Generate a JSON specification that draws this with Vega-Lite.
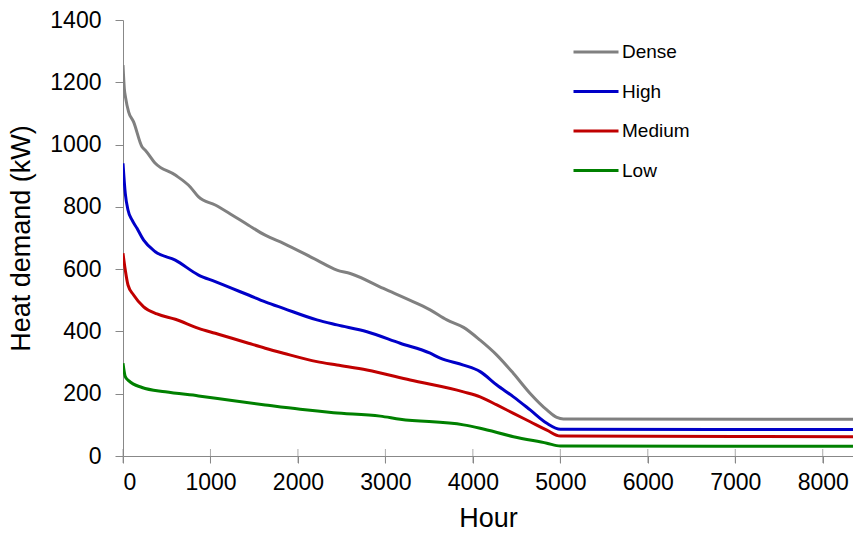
{
  "$schema": "https://vega.github.io/schema/vega-lite/v6.json",
  "autosize": "none",
  "width": 730,
  "height": 436,
  "padding": {"left": 123, "top": 20, "right": 0, "bottom": 78},
  "background": "white",
  "config": {
    "view": {"stroke": null},
    "font": "Liberation Sans",
    "axis": {
      "grid": false,
      "domainColor": "#888888",
      "tickColor": "#888888",
      "labelColor": "#000000",
      "titleColor": "#000000",
      "labelFont": "Liberation Sans",
      "titleFont": "Liberation Sans",
      "labelFontSize": 23,
      "titleFontSize": 27,
      "titleFontWeight": "normal"
    }
  },
  "datasets": {
    "curves": [
      {"hour": 0, "demand": 1255, "series": "Dense"},
      {"hour": 15, "demand": 1180, "series": "Dense"},
      {"hour": 30, "demand": 1150, "series": "Dense"},
      {"hour": 64, "demand": 1105, "series": "Dense"},
      {"hour": 121, "demand": 1073, "series": "Dense"},
      {"hour": 217, "demand": 993, "series": "Dense"},
      {"hour": 255, "demand": 982, "series": "Dense"},
      {"hour": 369, "demand": 940, "series": "Dense"},
      {"hour": 598, "demand": 902, "series": "Dense"},
      {"hour": 769, "demand": 864, "series": "Dense"},
      {"hour": 864, "demand": 832, "series": "Dense"},
      {"hour": 1055, "demand": 806, "series": "Dense"},
      {"hour": 1246, "demand": 774, "series": "Dense"},
      {"hour": 1435, "demand": 741, "series": "Dense"},
      {"hour": 1626, "demand": 709, "series": "Dense"},
      {"hour": 1835, "demand": 683, "series": "Dense"},
      {"hour": 2217, "demand": 629, "series": "Dense"},
      {"hour": 2446, "demand": 597, "series": "Dense"},
      {"hour": 2598, "demand": 586, "series": "Dense"},
      {"hour": 2978, "demand": 538, "series": "Dense"},
      {"hour": 3360, "demand": 490, "series": "Dense"},
      {"hour": 3512, "demand": 469, "series": "Dense"},
      {"hour": 3703, "demand": 437, "series": "Dense"},
      {"hour": 3893, "demand": 413, "series": "Dense"},
      {"hour": 4083, "demand": 372, "series": "Dense"},
      {"hour": 4274, "demand": 324, "series": "Dense"},
      {"hour": 4464, "demand": 265, "series": "Dense"},
      {"hour": 4655, "demand": 201, "series": "Dense"},
      {"hour": 4846, "demand": 148, "series": "Dense"},
      {"hour": 4960, "demand": 124, "series": "Dense"},
      {"hour": 5035, "demand": 119, "series": "Dense"},
      {"hour": 8350, "demand": 118, "series": "Dense"},

      {"hour": 0, "demand": 940, "series": "High"},
      {"hour": 26, "demand": 843, "series": "High"},
      {"hour": 57, "demand": 790, "series": "High"},
      {"hour": 103, "demand": 758, "series": "High"},
      {"hour": 160, "demand": 731, "series": "High"},
      {"hour": 236, "demand": 693, "series": "High"},
      {"hour": 369, "demand": 656, "series": "High"},
      {"hour": 598, "demand": 629, "series": "High"},
      {"hour": 864, "demand": 581, "series": "High"},
      {"hour": 1055, "demand": 560, "series": "High"},
      {"hour": 1246, "demand": 538, "series": "High"},
      {"hour": 1435, "demand": 517, "series": "High"},
      {"hour": 1626, "demand": 495, "series": "High"},
      {"hour": 1835, "demand": 474, "series": "High"},
      {"hour": 2217, "demand": 437, "series": "High"},
      {"hour": 2446, "demand": 421, "series": "High"},
      {"hour": 2789, "demand": 399, "series": "High"},
      {"hour": 3169, "demand": 362, "series": "High"},
      {"hour": 3512, "demand": 330, "series": "High"},
      {"hour": 3627, "demand": 314, "series": "High"},
      {"hour": 3893, "demand": 292, "series": "High"},
      {"hour": 4083, "demand": 271, "series": "High"},
      {"hour": 4274, "demand": 228, "series": "High"},
      {"hour": 4464, "demand": 190, "series": "High"},
      {"hour": 4655, "demand": 148, "series": "High"},
      {"hour": 4846, "demand": 105, "series": "High"},
      {"hour": 5000, "demand": 86, "series": "High"},
      {"hour": 8350, "demand": 85, "series": "High"},

      {"hour": 0, "demand": 651, "series": "Medium"},
      {"hour": 26, "demand": 597, "series": "Medium"},
      {"hour": 57, "demand": 549, "series": "Medium"},
      {"hour": 121, "demand": 517, "series": "Medium"},
      {"hour": 236, "demand": 479, "series": "Medium"},
      {"hour": 389, "demand": 456, "series": "Medium"},
      {"hour": 598, "demand": 439, "series": "Medium"},
      {"hour": 864, "demand": 410, "series": "Medium"},
      {"hour": 1055, "demand": 394, "series": "Medium"},
      {"hour": 1246, "demand": 378, "series": "Medium"},
      {"hour": 1435, "demand": 362, "series": "Medium"},
      {"hour": 1626, "demand": 346, "series": "Medium"},
      {"hour": 1835, "demand": 330, "series": "Medium"},
      {"hour": 2217, "demand": 303, "series": "Medium"},
      {"hour": 2446, "demand": 292, "series": "Medium"},
      {"hour": 2789, "demand": 276, "series": "Medium"},
      {"hour": 3283, "demand": 244, "series": "Medium"},
      {"hour": 3893, "demand": 206, "series": "Medium"},
      {"hour": 4083, "demand": 190, "series": "Medium"},
      {"hour": 4274, "demand": 164, "series": "Medium"},
      {"hour": 4464, "demand": 137, "series": "Medium"},
      {"hour": 4655, "demand": 110, "series": "Medium"},
      {"hour": 4846, "demand": 83, "series": "Medium"},
      {"hour": 5000, "demand": 64, "series": "Medium"},
      {"hour": 8350, "demand": 62, "series": "Medium"},

      {"hour": 0, "demand": 298, "series": "Low"},
      {"hour": 26, "demand": 255, "series": "Low"},
      {"hour": 64, "demand": 242, "series": "Low"},
      {"hour": 217, "demand": 220, "series": "Low"},
      {"hour": 483, "demand": 206, "series": "Low"},
      {"hour": 864, "demand": 193, "series": "Low"},
      {"hour": 1246, "demand": 178, "series": "Low"},
      {"hour": 1626, "demand": 164, "series": "Low"},
      {"hour": 2026, "demand": 150, "series": "Low"},
      {"hour": 2407, "demand": 139, "series": "Low"},
      {"hour": 2941, "demand": 128, "series": "Low"},
      {"hour": 3169, "demand": 118, "series": "Low"},
      {"hour": 3893, "demand": 100, "series": "Low"},
      {"hour": 4083, "demand": 89, "series": "Low"},
      {"hour": 4464, "demand": 62, "series": "Low"},
      {"hour": 4846, "demand": 41, "series": "Low"},
      {"hour": 5000, "demand": 32, "series": "Low"},
      {"hour": 8350, "demand": 31, "series": "Low"}
    ],
    "hourTicks": [
      {"tick": 0}, {"tick": 1000}, {"tick": 2000}, {"tick": 3000}, {"tick": 4000},
      {"tick": 5000}, {"tick": 6000}, {"tick": 7000}, {"tick": 8000}
    ]
  },
  "layer": [
    {
      "data": {"name": "hourTicks"},
      "mark": {"type": "tick", "orient": "vertical", "color": "#888888", "thickness": 1, "size": 14},
      "encoding": {
        "x": {"field": "tick", "type": "quantitative", "scale": {"domain": [0, 8346], "nice": false, "zero": true}},
        "y": {"datum": 0, "type": "quantitative"}
      }
    },
    {
      "data": {"name": "curves"},
      "mark": {"type": "line", "strokeWidth": 3, "clip": true, "interpolate": "monotone"},
      "encoding": {
        "x": {
          "field": "hour",
          "type": "quantitative",
          "scale": {"domain": [0, 8346], "nice": false},
          "axis": {
            "title": "Hour",
            "values": [0, 1000, 2000, 3000, 4000, 5000, 6000, 7000, 8000],
            "format": "d",
            "tickSize": 7,
            "labelPadding": 8,
            "titlePadding": 11
          }
        },
        "y": {
          "field": "demand",
          "type": "quantitative",
          "scale": {"domain": [0, 1400], "nice": false},
          "axis": {
            "title": "Heat demand (kW)",
            "values": [0, 200, 400, 600, 800, 1000, 1200, 1400],
            "format": "d",
            "tickSize": 8,
            "labelPadding": 14,
            "titlePadding": 14
          }
        },
        "color": {
          "field": "series",
          "type": "nominal",
          "sort": ["Dense", "High", "Medium", "Low"],
          "scale": {
            "domain": ["Dense", "High", "Medium", "Low"],
            "range": ["#808080", "#0000C8", "#C00000", "#008000"]
          },
          "legend": {
            "title": null,
            "orient": "none",
            "legendX": 449,
            "legendY": 8,
            "symbolType": "stroke",
            "symbolSize": 2025,
            "symbolStrokeWidth": 3,
            "rowPadding": 5.5,
            "labelOffset": 2,
            "labelFont": "Liberation Sans",
            "labelFontSize": 19,
            "labelColor": "#000000"
          }
        }
      }
    }
  ]
}
